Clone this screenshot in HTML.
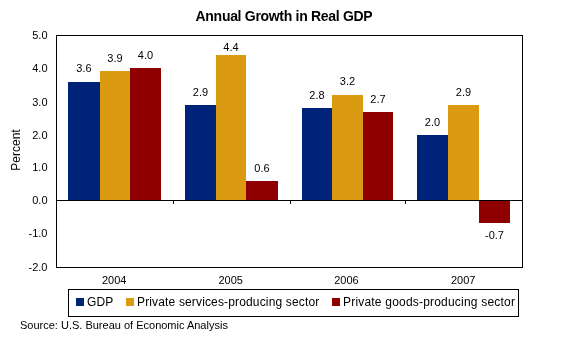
<!DOCTYPE html>
<html><head><meta charset="utf-8"><style>
html,body{margin:0;padding:0;background:#fff;width:564px;height:343px;overflow:hidden}
svg{display:block;will-change:transform}
text{font-family:"Liberation Sans",sans-serif;fill:#000}
.s{font-size:11px}
.l{font-size:12px;letter-spacing:0.15px}
.p{font-size:12px}
.t{font-size:14px;font-weight:bold;letter-spacing:-0.3px}
</style></head><body>
<svg width="564" height="343" viewBox="0 0 564 343" shape-rendering="crispEdges">
<rect width="564" height="343" fill="#fff"/>
<rect x="68" y="82" width="32" height="118" fill="#00237A"/>
<text x="84.0" y="72" text-anchor="middle" class="s">3.6</text>
<rect x="100" y="71" width="30" height="129" fill="#DA9A12"/>
<text x="115.0" y="62" text-anchor="middle" class="s">3.9</text>
<rect x="130" y="68" width="31" height="132" fill="#8E0000"/>
<text x="145.5" y="59" text-anchor="middle" class="s">4.0</text>
<rect x="185" y="105" width="31" height="95" fill="#00237A"/>
<text x="200.5" y="96" text-anchor="middle" class="s">2.9</text>
<rect x="216" y="55" width="30" height="145" fill="#DA9A12"/>
<text x="231.0" y="51" text-anchor="middle" class="s">4.4</text>
<rect x="246" y="181" width="32" height="19" fill="#8E0000"/>
<text x="262.0" y="172" text-anchor="middle" class="s">0.6</text>
<rect x="302" y="108" width="30" height="92" fill="#00237A"/>
<text x="317.0" y="99" text-anchor="middle" class="s">2.8</text>
<rect x="332" y="95" width="31" height="105" fill="#DA9A12"/>
<text x="347.5" y="85" text-anchor="middle" class="s">3.2</text>
<rect x="363" y="112" width="30" height="88" fill="#8E0000"/>
<text x="378.0" y="103" text-anchor="middle" class="s">2.7</text>
<rect x="417" y="135" width="31" height="65" fill="#00237A"/>
<text x="432.5" y="126" text-anchor="middle" class="s">2.0</text>
<rect x="448" y="105" width="31" height="95" fill="#DA9A12"/>
<text x="463.5" y="96" text-anchor="middle" class="s">2.9</text>
<rect x="479" y="201" width="31" height="22" fill="#8E0000"/>
<text x="494.5" y="239" text-anchor="middle" class="s">-0.7</text>
<rect x="56.5" y="35.5" width="466" height="232" fill="none" stroke="#000" stroke-width="1"/>
<line x1="56" y1="200.5" x2="523" y2="200.5" stroke="#000" stroke-width="1"/>
<line x1="173.5" y1="200" x2="173.5" y2="204" stroke="#000" stroke-width="1"/>
<line x1="290.5" y1="200" x2="290.5" y2="204" stroke="#000" stroke-width="1"/>
<line x1="405.5" y1="200" x2="405.5" y2="204" stroke="#000" stroke-width="1"/>
<text x="47.5" y="39" text-anchor="end" class="s">5.0</text>
<text x="47.5" y="72" text-anchor="end" class="s">4.0</text>
<text x="47.5" y="106" text-anchor="end" class="s">3.0</text>
<text x="47.5" y="139" text-anchor="end" class="s">2.0</text>
<text x="47.5" y="171" text-anchor="end" class="s">1.0</text>
<text x="47.5" y="204" text-anchor="end" class="s">0.0</text>
<text x="47.5" y="237" text-anchor="end" class="s">-1.0</text>
<text x="47.5" y="271" text-anchor="end" class="s">-2.0</text>
<text x="114.25" y="284" text-anchor="middle" class="s">2004</text>
<text x="230.75" y="284" text-anchor="middle" class="s">2005</text>
<text x="346.5" y="284" text-anchor="middle" class="s">2006</text>
<text x="463.25" y="284" text-anchor="middle" class="s">2007</text>
<text x="284" y="21" text-anchor="middle" class="t">Annual Growth in Real GDP</text>
<text transform="translate(20,150) rotate(-90)" text-anchor="middle" class="p">Percent</text>
<rect x="68.5" y="289.5" width="450" height="27" fill="none" stroke="#000" stroke-width="1"/>
<rect x="76" y="298" width="8" height="8" fill="#00237A"/>
<rect x="126" y="298" width="8" height="8" fill="#DA9A12"/>
<rect x="332" y="298" width="8" height="8" fill="#8E0000"/>
<text x="87" y="306" class="l">GDP</text>
<text x="137" y="306" class="l">Private services-producing sector</text>
<text x="343" y="306" class="l" style="letter-spacing:0.2px">Private goods-producing sector</text>
<text x="20" y="329" class="s">Source: U.S. Bureau of Economic Analysis</text>
</svg>
</body></html>
